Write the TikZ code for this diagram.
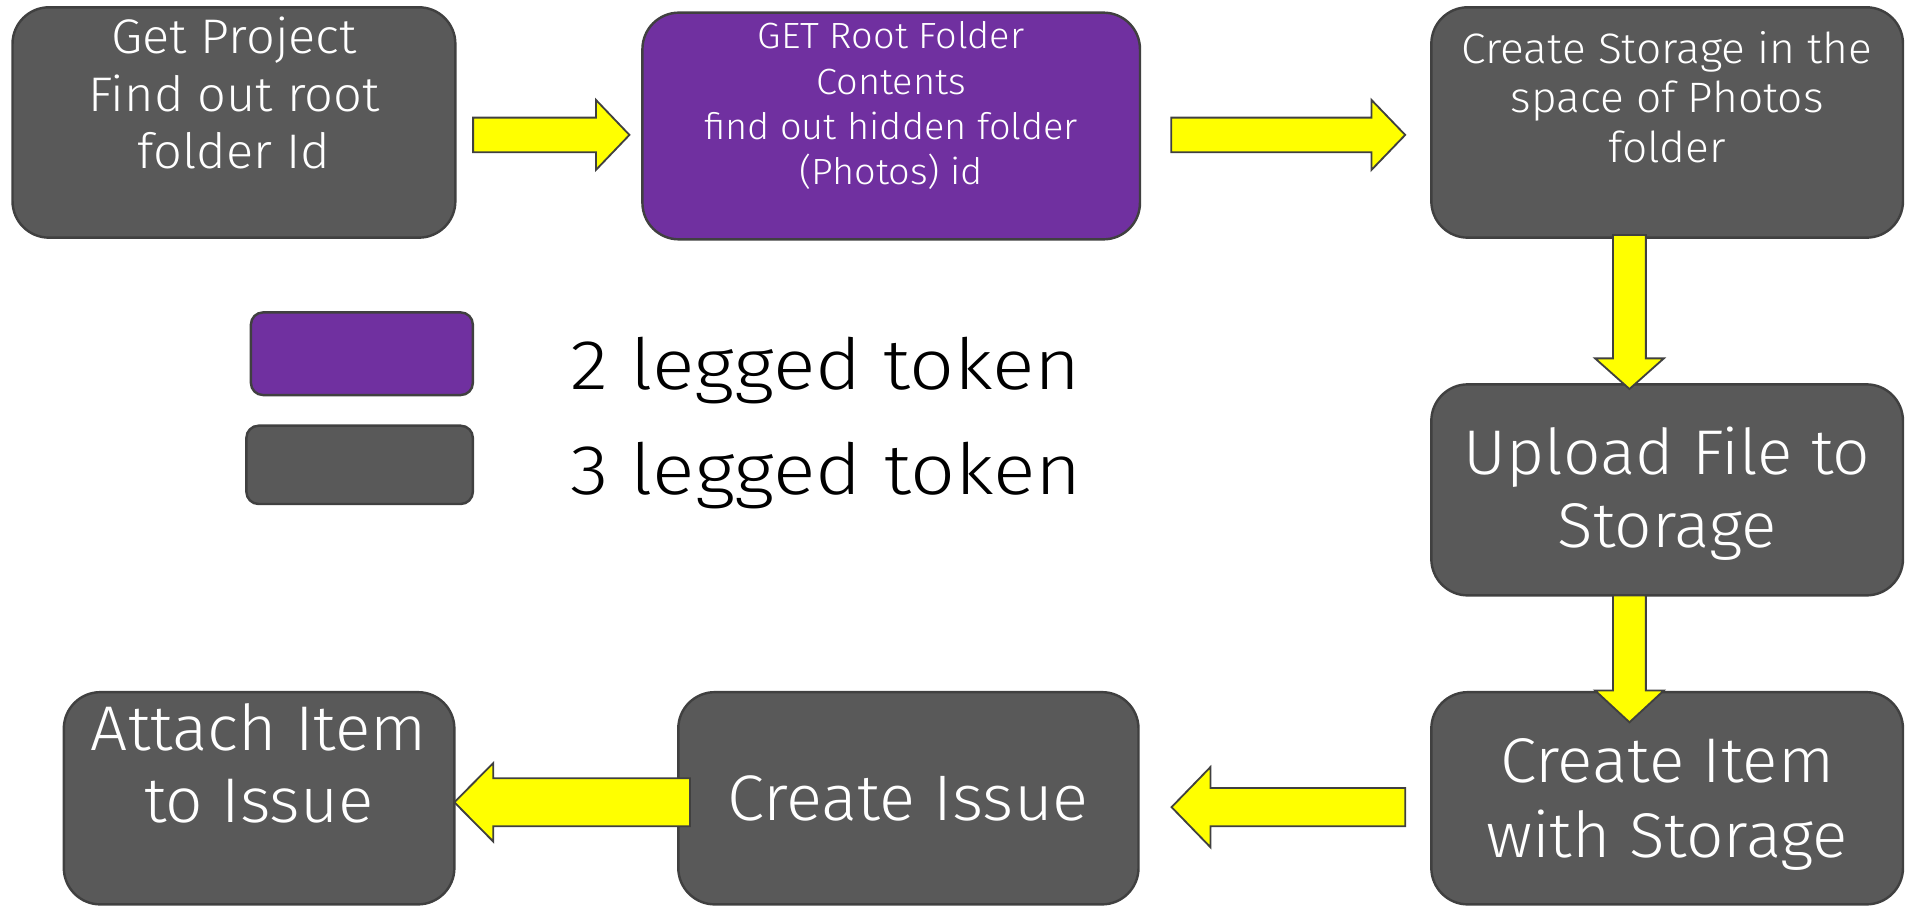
\documentclass[tikz,border=0pt]{standalone}
\usepackage{fontspec}
\setmainfont{Fira Sans}[UprightFont={* Light}, FakeStretch=1.04]
\newfontfamily\legendfont{Fira Sans}[UprightFont={* Light}, FakeStretch=1.12]
\usetikzlibrary{calc}
\definecolor{boxgray}{HTML}{595959}
\definecolor{edgegray}{HTML}{404040}
\definecolor{tokpurple}{HTML}{7030A0}
\definecolor{arrowyellow}{HTML}{FFFF00}
\tikzset{
  box/.style={draw=edgegray, line width=2pt, rounded corners=30pt, fill=boxgray, inner sep=0pt},
  twoleg/.style={box, fill=tokpurple},
  legendbox/.style={draw=edgegray, line width=2pt, rounded corners=10pt, inner sep=0pt},
  boxtext/.style={text=white, align=center, inner sep=0pt},
  blockarr/.style={draw=edgegray, line width=1.5pt, fill=arrowyellow, line join=miter},
  legendtext/.style={text=black, inner sep=0pt, anchor=base west, font=\legendfont\fontsize{58}{70}\selectfont},
}
% #1 start, #2 tip, #3 shaft half width, #4 head half width, #5 head length
\newcommand\blockarrow[5]{%
  \coordinate (hb) at ($(#2)!#5!(#1)$);
  \draw[blockarr] ($(#1)!#3!90:(#2)$) -- ($(hb)!#3!-90:(#1)$) -- ($(hb)!#4!-90:(#1)$) -- (#2)
    -- ($(hb)!#4!90:(#1)$) -- ($(hb)!#3!90:(#1)$) -- ($(#1)!#3!-90:(#2)$) -- cycle;}
\begin{document}
\begin{tikzpicture}[x=1pt, y=-1pt]
\useasboundingbox (0,0) rectangle (1568,745);
% boxes
\node[box, minimum width=364.3pt, minimum height=189.5pt] (b1) at (192.45,100.75) {};
\node[twoleg, minimum width=409.3pt, minimum height=186.5pt] (b2) at (733.15,103.65) {};
\node[box, minimum width=388pt, minimum height=189.5pt] (b3) at (1371.5,100.75) {};
\node[box, minimum width=388pt, minimum height=173.6pt] (b4) at (1371.5,403) {};
\node[box, minimum width=388pt, minimum height=174.6pt] (b5) at (1371.5,656.7) {};
\node[box, minimum width=378.6pt, minimum height=174.6pt] (b6) at (747.3,656.7) {};
\node[box, minimum width=321.3pt, minimum height=174.6pt] (b7) at (213.15,656.7) {};
% texts
\node[boxtext, font=\fontsize{40}{47}\selectfont] (t1) at (192.5,76.5) {Get Project\\Find out root\\folder Id};
\node[boxtext, font=\fontsize{30}{37.3}\selectfont] (t2) at (733,87) {GET Root Folder\\Contents\\find out hidden folder\\(Photos) id};
\node[boxtext, font=\fontsize{35}{40.7}\selectfont] (t3) at (1371.5,79.7) {Create Storage in the\\space of Photos\\folder};
\node[boxtext, font=\fontsize{52}{60.4}\selectfont] (t4) at (1371.5,406) {Upload File to\\Storage};
\node[boxtext, font=\fontsize{52}{62}\selectfont] (t5) at (1371.5,661.8) {Create Item\\with Storage};
\node[boxtext, font=\fontsize{53}{62}\selectfont] (t6) at (747,657) {Create Issue};
\node[boxtext, font=\fontsize{52}{59.4}\selectfont] (t7) at (213,627.7) {Attach Item\\to Issue};
% legend
\node[legendbox, fill=tokpurple, minimum width=182.6pt, minimum height=68pt] (lp) at (297.7,291) {};
\node[legendbox, fill=boxgray, minimum width=186.3pt, minimum height=64.4pt] (lg) at (295.85,382.4) {};
\node[legendtext] (l2) at (469,320.8) {2 legged token};
\node[legendtext] (l3) at (469,407.2) {3 legged token};
% arrow end points
\coordinate (a1s) at (389.2,111);   \coordinate (a1e) at (517.8,111);
\coordinate (a2s) at (963.6,111);   \coordinate (a2e) at (1156,111);
\coordinate (a3s) at (1340.5,193.3); \coordinate (a3e) at (1340.5,320);
\coordinate (a4s) at (1340.5,489.8); \coordinate (a4e) at (1340.5,594.2);
\coordinate (a5s) at (1156,664);    \coordinate (a5e) at (963.8,664);
\coordinate (a6s) at (567.6,660);   \coordinate (a6e) at (373.8,660);
\blockarrow{a1s}{a1e}{14.25pt}{28.75pt}{27.5pt}
\blockarrow{a2s}{a2e}{14.25pt}{28.75pt}{27.7pt}
\blockarrow{a3s}{a3e}{13.5pt}{28.3pt}{25.2pt}
\blockarrow{a4s}{a4e}{13.5pt}{28.3pt}{26.2pt}
\blockarrow{a5s}{a5e}{15.75pt}{33pt}{32pt}
\blockarrow{a6s}{a6e}{19.75pt}{32.3pt}{32pt}
\end{tikzpicture}
\end{document}
